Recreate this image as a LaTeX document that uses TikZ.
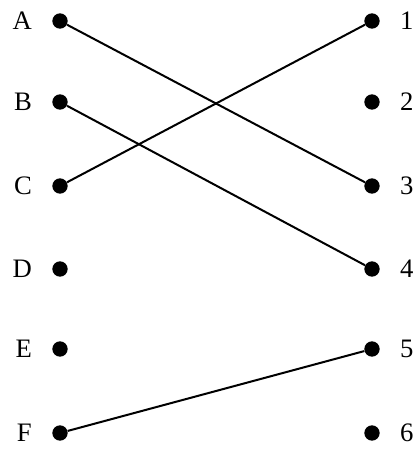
\documentclass[tikz,border=0pt]{standalone}
\usepackage{fontspec}
\setmainfont{Liberation Serif}
\usetikzlibrary{positioning}

\begin{document}
\begin{tikzpicture}[
    x=0.75pt, y=-0.75pt,
    node distance=15pt,
    dot/.style={circle, fill=black, draw=none, inner sep=0pt, minimum size=11.5pt},
    lbl/.style={inner sep=0pt, font=\fontsize{20pt}{24pt}\selectfont},
    link/.style={line width=1.5pt, black}
  ]
    \useasboundingbox (0,0) rectangle (415,452);

    % left column
    \node[dot] (a) at (60,21)  {};
    \node[dot] (b) at (60,102) {};
    \node[dot] (c) at (60,186) {};
    \node[dot] (d) at (60,269) {};
    \node[dot] (e) at (60,349) {};
    \node[dot] (f) at (60,433) {};

    \node[lbl, left=of a] (la) {A};
    \node[lbl, left=of b] (lb) {B};
    \node[lbl, left=of c] (lc) {C};
    \node[lbl, left=of d] (ld) {D};
    \node[lbl, left=of e] (le) {E};
    \node[lbl, left=of f] (lf) {F};

    % right column
    \node[dot] (r1) at (372,21)  {};
    \node[dot] (r2) at (372,102) {};
    \node[dot] (r3) at (372,186) {};
    \node[dot] (r4) at (372,269) {};
    \node[dot] (r5) at (372,349) {};
    \node[dot] (r6) at (372,433) {};

    \node[lbl, right=of r1] (l1) {1};
    \node[lbl, right=of r2] (l2) {2};
    \node[lbl, right=of r3] (l3) {3};
    \node[lbl, right=of r4] (l4) {4};
    \node[lbl, right=of r5] (l5) {5};
    \node[lbl, right=of r6] (l6) {6};

    % matching
    \draw[link] (a) -- (r3);
    \draw[link] (b) -- (r4);
    \draw[link] (c) -- (r1);
    \draw[link] (f) -- (r5);
\end{tikzpicture}
\end{document}
